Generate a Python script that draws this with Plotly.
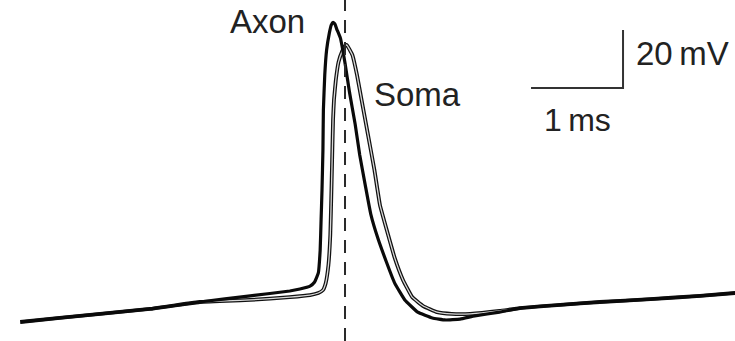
import plotly.graph_objects as go

# Time (ms, relative to dashed line) and membrane potential (mV)
axon_t = [-3.53, -3.10, -2.66, -2.12, -1.58, -1.03, -0.60, -0.49, -0.38, -0.33, -0.29, -0.27, -0.26, -0.25,
          -0.24, -0.235, -0.22, -0.20, -0.17, -0.15, -0.13, -0.11, -0.09, -0.05, 0.00, 0.05, 0.11, 0.16,
          0.22, 0.28, 0.36, 0.45, 0.54, 0.65, 0.79, 0.95, 1.09, 1.25, 1.41, 1.68, 1.90, 2.34, 2.77, 3.32,
          3.86, 4.24]
axon_v = [-70, -68.6, -67.2, -65.5, -63.1, -61.0, -59.3, -58.6, -57.6, -56.2, -53.1, -45.2, -34.8, -24.5,
          -10.7, 3.1, 15.2, 23.8, 29.7, 32.4, 33.3, 32.8, 31.0, 27.9, 19.3, 9.0, -1.7, -12.4,
          -22.8, -32.8, -41.4, -49.3, -56.6, -62.4, -66.6, -68.6, -69.3, -69.0, -67.9, -66.6, -65.2, -64.1,
          -63.1, -62.1, -61.0, -60.0]

soma_t = [-3.53, -3.10, -2.66, -2.12, -1.58, -1.03, -0.60, -0.38, -0.29, -0.24, -0.21, -0.18, -0.16, -0.15,
          -0.14, -0.13, -0.12, -0.10, -0.07, -0.03, 0.00, 0.02, 0.08, 0.13, 0.18, 0.25, 0.32, 0.38, 0.46,
          0.54, 0.63, 0.73, 0.85, 1.00, 1.16, 1.36, 1.68, 1.90, 2.34, 2.77, 3.32, 3.86, 4.24]
soma_v = [-70, -68.6, -67.2, -65.5, -63.1, -62.4, -61.4, -60.7, -60.0, -59.0, -56.6, -50.3, -40.0, -27.9,
          -14.1, -0.3, 6.6, 13.4, 19.7, 23.4, 25.2, 25.5, 22.1, 15.2, 6.6, -5.5, -17.6, -29.7, -39.0,
          -47.9, -55.5, -61.4, -64.5, -66.6, -67.2, -67.2, -66.2, -65.2, -64.1, -63.1, -62.1, -61.0, -60.0]

trace_labels = ["Axon", "Soma"]
scale_ms = 1.0
scale_mv = 20.0
scale_labels = ["1\u2009ms", "20\u2009mV"]

X_RANGE = [-3.75, 4.239]
Y_RANGE = [-76.55, 41.03]
BAR_T0 = 2.022
BAR_V0 = 10.7

LINE_SHAPE = dict(shape="spline", smoothing=0.3)

fig = go.Figure()

# Soma: hollow-looking line (black outline, light core)
fig.add_trace(go.Scatter(x=soma_t, y=soma_v, mode="lines",
                         line=dict(color="#111111", width=3.8, **LINE_SHAPE),
                         hoverinfo="skip", showlegend=False))
fig.add_trace(go.Scatter(x=soma_t, y=soma_v, mode="lines",
                         line=dict(color="#d8d8d8", width=1.3, **LINE_SHAPE),
                         hoverinfo="skip", showlegend=False))
# Axon: solid black
fig.add_trace(go.Scatter(x=axon_t, y=axon_v, mode="lines",
                         line=dict(color="#0a0a0a", width=3.2, **LINE_SHAPE),
                         hoverinfo="skip", showlegend=False))

# Scale bar
fig.add_trace(go.Scatter(x=[BAR_T0, BAR_T0 + scale_ms, BAR_T0 + scale_ms],
                         y=[BAR_V0, BAR_V0, BAR_V0 + scale_mv], mode="lines",
                         line=dict(color="#333333", width=2),
                         hoverinfo="skip", showlegend=False))

# Dashed vertical reference line
fig.add_shape(type="line", xref="x", yref="paper", x0=0, x1=0, y0=0, y1=1,
              line=dict(color="#2a2a2a", width=2, dash="13px,9px"))

font = dict(family="Arial, Liberation Sans, sans-serif", color="#222222")
fig.add_annotation(x=-0.41, y=33.6, text=trace_labels[0], showarrow=False, xanchor="right",
                   yanchor="middle", font=dict(size=33, **font))
fig.add_annotation(x=0.29, y=8.3, text=trace_labels[1], showarrow=False, xanchor="left",
                   yanchor="middle", font=dict(size=33, **font))
fig.add_annotation(x=BAR_T0 + scale_ms + 0.12, y=BAR_V0 + scale_mv * 0.6, text=scale_labels[1],
                   showarrow=False, xanchor="left", yanchor="middle", font=dict(size=33, **font))
fig.add_annotation(x=BAR_T0 + scale_ms / 2, y=-0.2, text=scale_labels[0], showarrow=False,
                   xanchor="center", yanchor="middle", font=dict(size=32, **font))

fig.update_layout(width=735, height=341, margin=dict(l=0, r=0, t=0, b=0),
                  paper_bgcolor="white", plot_bgcolor="white")
fig.update_xaxes(range=X_RANGE, visible=False, showgrid=False, zeroline=False)
fig.update_yaxes(range=Y_RANGE, visible=False, showgrid=False, zeroline=False)

fig.write_html("out.html", config={"displayModeBar": False},
               post_script="document.body.style.margin='0';document.body.style.overflow='hidden';")
